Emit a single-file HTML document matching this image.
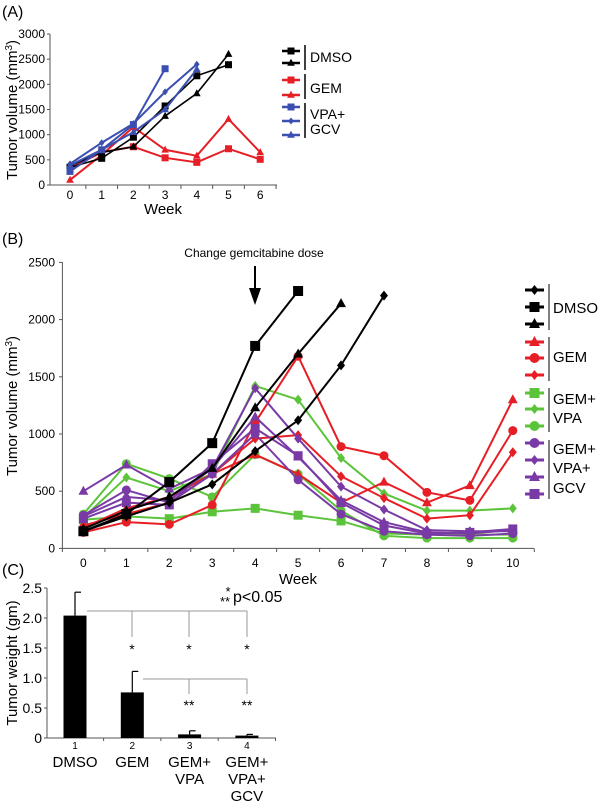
<!DOCTYPE html>
<html><head><meta charset="utf-8">
<style>
html,body{margin:0;padding:0;background:#fff;}
svg{display:block;font-family:"Liberation Sans",Arial,sans-serif;}
</style></head>
<body>
<svg id="fig" width="600" height="806" viewBox="0 0 600 806" xmlns="http://www.w3.org/2000/svg">
<g id="pa"></g>
<g id="pb"></g>
<g id="pc"></g>
</svg>
<script>
// ---------- Panel A data ----------
const aWeeks = [0,1,2,3,4,5,6];
const aTicks = [0,500,1000,1500,2000,2500,3000];
const aDmsoSq = [350,530,950,1570,2170,2390];
const aDmsoTri = [380,650,760,1370,1820,2600];
const aGemSq = [330,650,760,540,450,720,510];
const aGemTri = [100,600,1150,700,580,1310,650];
const aVgSq = [270,700,1200,2310];
const aVgDia = [420,840,1220,1850,2400];
const aVgTri = [390,700,1050,1500,2300];
// ---------- Panel B data ----------
const bWeeks = [0,1,2,3,4,5,6,7,8,9,10];
const bTicks = [0,500,1000,1500,2000,2500];
const bDmsoDia = [150,280,400,560,850,1120,1600,2210];
const bDmsoSq = [150,300,580,920,1770,2250];
const bDmsoTri = [170,330,450,700,1230,1700,2140];
const bGemTri = [180,350,450,650,820,650,400,580,400,550,1300];
const bGemCir = [140,230,210,380,1100,1680,890,810,490,420,1030];
const bGemDia = [200,300,400,650,960,990,630,440,260,290,840];
const bGvSq = [250,280,260,320,350,290,240,130,120,120,120];
const bGvDia = [270,620,500,650,1420,1300,790,480,330,330,350];
const bGvCir = [300,740,610,450,820,650,330,110,90,90,90];
const bGvgCir = [290,510,400,650,1000,600,300,150,120,110,130];
const bGvgDia = [280,450,420,700,1400,960,540,340,160,150,150];
const bGvgTri = [500,730,520,700,1150,800,420,230,140,130,160];
const bGvgSq = [260,400,380,740,1050,810,400,200,130,140,170];
// ---------- Panel C data ----------
const cGroups = ["1","2","3","4"];
const cNames = [["DMSO"],["GEM"],["GEM+","VPA"],["GEM+","VPA+","GCV"]];
const cMeans = [2.04,0.76,0.06,0.04];
const cErr = [0.39,0.35,0.06,0.02];
const cTicks = ["0","0.5","1.0","1.5","2.0","2.5"];

const NS="http://www.w3.org/2000/svg";
function mk(parent,tag,attrs,text){
  const e=document.createElementNS(NS,tag);
  for(const k in attrs) e.setAttribute(k,attrs[k]);
  if(text!==undefined) e.textContent=text;
  parent.appendChild(e); return e;
}
const RED="#e61e25", BLACK="#000", BLUE="#3b4fb0", GREEN="#5cc43a", PURPLE="#7a3aa6";

function marker(g,shape,x,y,s,color){
  let e;
  if(shape==="sq"){ e=mk(g,"rect",{x:x-s,y:y-s,width:2*s,height:2*s,fill:color}); }
  else if(shape==="tri"){ e=mk(g,"polygon",{points:`${x},${y-s*1.2} ${x-s*1.1},${y+s*0.8} ${x+s*1.1},${y+s*0.8}`,fill:color}); }
  else if(shape==="cir"){ e=mk(g,"circle",{cx:x,cy:y,r:s,fill:color}); }
  else { e=mk(g,"polygon",{points:`${x},${y-s} ${x+s*0.8},${y} ${x},${y+s} ${x-s*0.8},${y}`,fill:color}); }
  
  
}
function series(g,name,vals,X,Y,shape,color,s,w){
  const sg=mk(g,"g",{});
  
  
  const pts=vals.map((v,i)=>X(i)+","+Y(v)).join(" ");
  mk(sg,"polyline",{points:pts,fill:"none",stroke:color,"stroke-width":w});
  vals.forEach((v,i)=>marker(sg,shape,X(i),Y(v),s,color));
}

// ===== Panel A =====
(function(){
  const g=document.getElementById("pa");
  const X=i=>70+i*31.7, Y=v=>185-v/3000*151;
  mk(g,"text",{x:2,y:17,"font-size":16,},"(A)");
  mk(g,"line",{x1:50,y1:34,x2:50,y2:185,stroke:"#555"});
  mk(g,"line",{x1:50,y1:185,x2:277,y2:185,stroke:"#555"});
  aTicks.forEach(t=>{
    mk(g,"line",{x1:47,y1:Y(t),x2:50,y2:Y(t),stroke:"#555"});
    const tx=mk(g,"text",{x:45,y:Y(t)+4,"font-size":12,"text-anchor":"end"},t);
     
  });
  aWeeks.forEach(w=>{
    mk(g,"line",{x1:X(w)+15.85,y1:185,x2:X(w)+15.85,y2:189,stroke:"#555"});
    const tx=mk(g,"text",{x:X(w),y:199,"font-size":12,"text-anchor":"middle"},w);
     
  });
  mk(g,"text",{x:163,y:214,"font-size":15,"text-anchor":"middle",},"Week");
  const yt=mk(g,"text",{transform:"translate(17,110) rotate(-90)","font-size":15,"text-anchor":"middle",});
  yt.innerHTML='Tumor volume (mm<tspan dy="-5" font-size="10">3</tspan><tspan dy="5">)</tspan>';
  series(g,"gem-square",aGemSq,X,Y,"sq",RED,3.5,2);
  series(g,"gem-triangle",aGemTri,X,Y,"tri",RED,3.5,2);
  series(g,"dmso-square",aDmsoSq,X,Y,"sq",BLACK,3.5,1.6);
  series(g,"dmso-triangle",aDmsoTri,X,Y,"tri",BLACK,3.5,1.6);
  series(g,"vpa-gcv-square",aVgSq,X,Y,"sq",BLUE,3.5,2);
  series(g,"vpa-gcv-diamond",aVgDia,X,Y,"dia",BLUE,3.5,2);
  series(g,"vpa-gcv-triangle",aVgTri,X,Y,"tri",BLUE,3.5,2);
  const L=mk(g,"g",{});
  const rows=[[51,"sq",BLACK],[63,"tri",BLACK],[80,"sq",RED],[95,"tri",RED],[107,"sq",BLUE],[121,"dia",BLUE],[135,"tri",BLUE]];
  rows.forEach(r=>{mk(L,"line",{x1:282,y1:r[0],x2:300,y2:r[0],stroke:r[2],"stroke-width":2.5});marker(L,r[1],291,r[0],3.5,r[2]);});
  [[45,70],[74,99],[103,138]].forEach(b=>mk(L,"line",{x1:305,y1:b[0],x2:305,y2:b[1],stroke:"#000","stroke-width":1.5}));
  mk(L,"text",{x:310,y:62,"font-size":14},"DMSO");
  mk(L,"text",{x:310,y:93,"font-size":14},"GEM");
  mk(L,"text",{x:310,y:119,"font-size":14},"VPA+");
  mk(L,"text",{x:310,y:134,"font-size":14},"GCV");
})();

// ===== Panel B =====
(function(){
  const g=document.getElementById("pb");
  const X=i=>83.4+i*42.94, Y=v=>548.4-v/2500*286;
  mk(g,"text",{x:2,y:244,"font-size":16,},"(B)");
  mk(g,"line",{x1:62.4,y1:262,x2:62.4,y2:548.4,stroke:"#555"});
  mk(g,"line",{x1:62.4,y1:548.4,x2:534,y2:548.4,stroke:"#555"});
  bTicks.forEach(t=>{
    mk(g,"line",{x1:59,y1:Y(t),x2:62.4,y2:Y(t),stroke:"#555"});
    const tx=mk(g,"text",{x:55,y:Y(t)+4,"font-size":12,"text-anchor":"end"},t);
     
  });
  bWeeks.forEach(w=>{
    mk(g,"line",{x1:X(w)+21.5,y1:548.4,x2:X(w)+21.5,y2:552,stroke:"#555"});
    const tx=mk(g,"text",{x:X(w),y:567,"font-size":12,"text-anchor":"middle"},w);
     
  });
  mk(g,"line",{x1:62.4,y1:548.4,x2:62.4,y2:552,stroke:"#555"});
  mk(g,"text",{x:298,y:584,"font-size":15,"text-anchor":"middle",},"Week");
  const yt=mk(g,"text",{transform:"translate(17,406) rotate(-90)","font-size":15,"text-anchor":"middle",});
  yt.innerHTML='Tumor volume (mm<tspan dy="-5" font-size="10">3</tspan><tspan dy="5">)</tspan>';
  mk(g,"text",{x:254,y:257,"font-size":12,"text-anchor":"middle",},"Change gemcitabine dose");
  mk(g,"line",{x1:255,y1:266,x2:255,y2:294,stroke:"#000","stroke-width":2,});
  mk(g,"polygon",{points:"249,288 261,288 255,305",fill:"#000"});
  series(g,"gem-vpa-square",bGvSq,X,Y,"sq",GREEN,4.5,2);
  series(g,"gem-vpa-diamond",bGvDia,X,Y,"dia",GREEN,5,2);
  series(g,"gem-vpa-circle",bGvCir,X,Y,"cir",GREEN,4.5,2);
  series(g,"gem-triangle",bGemTri,X,Y,"tri",RED,4.5,2);
  series(g,"gem-circle",bGemCir,X,Y,"cir",RED,4.5,2);
  series(g,"gem-diamond",bGemDia,X,Y,"dia",RED,5,2);
  series(g,"gvg-circle",bGvgCir,X,Y,"cir",PURPLE,4.5,2);
  series(g,"gvg-diamond",bGvgDia,X,Y,"dia",PURPLE,5,2);
  series(g,"gvg-triangle",bGvgTri,X,Y,"tri",PURPLE,4.5,2);
  series(g,"gvg-square",bGvgSq,X,Y,"sq",PURPLE,4.5,2);
  series(g,"dmso-diamond",bDmsoDia,X,Y,"dia",BLACK,5,2);
  series(g,"dmso-square",bDmsoSq,X,Y,"sq",BLACK,5,2);
  series(g,"dmso-triangle",bDmsoTri,X,Y,"tri",BLACK,4.5,2);
  const L=mk(g,"g",{});
  const rows=[[290,"dia",BLACK],[307,"sq",BLACK],[324,"tri",BLACK],[342,"tri",RED],[358,"cir",RED],[375,"dia",RED],[393,"sq",GREEN],[409,"dia",GREEN],[426,"cir",GREEN],[443,"cir",PURPLE],[460,"dia",PURPLE],[477,"tri",PURPLE],[494,"sq",PURPLE]];
  rows.forEach(r=>{mk(L,"line",{x1:525,y1:r[0],x2:544,y2:r[0],stroke:r[2],"stroke-width":3});marker(L,r[1],534.5,r[0],5,r[2]);});
  [[284,330],[337,381],[388,432],[440,499]].forEach(b=>mk(L,"line",{x1:549,y1:b[0],x2:549,y2:b[1],stroke:"#000","stroke-width":1}));
  mk(L,"text",{x:553,y:313,"font-size":15},"DMSO");
  mk(L,"text",{x:553,y:362,"font-size":15},"GEM");
  mk(L,"text",{x:553,y:404,"font-size":15},"GEM+");
  mk(L,"text",{x:553,y:423,"font-size":15},"VPA");
  mk(L,"text",{x:553,y:454,"font-size":15},"GEM+");
  mk(L,"text",{x:553,y:473,"font-size":15},"VPA+");
  mk(L,"text",{x:553,y:493,"font-size":15},"GCV");
})();

// ===== Panel C =====
(function(){
  const g=document.getElementById("pc");
  const X=i=>75+i*57.3, Y=v=>738-v*60;
  mk(g,"text",{x:2,y:575,"font-size":16,},"(C)");
  mk(g,"line",{x1:47,y1:588,x2:47,y2:738,stroke:"#555"});
  mk(g,"line",{x1:47,y1:738,x2:276,y2:738,stroke:"#555"});
  cTicks.forEach((t,i)=>{
    const v=i*0.5;
    mk(g,"line",{x1:44,y1:Y(v),x2:47,y2:Y(v),stroke:"#555"});
    const tx=mk(g,"text",{x:42,y:Y(v)+5,"font-size":14,"text-anchor":"end"},t);
     
  });
  mk(g,"text",{transform:"translate(17,663) rotate(-90)","font-size":15,"text-anchor":"middle",},"Tumor weight (gm)");
  cMeans.forEach((m,i)=>{
    const x=X(i);
    const b=mk(g,"rect",{x:x-11.5,y:Y(m),width:23,height:738-Y(m),fill:"#000"});
    
    
    mk(g,"line",{x1:x,y1:Y(m),x2:x,y2:Y(m+cErr[i]),stroke:"#000","stroke-width":1.2});
    mk(g,"line",{x1:x,y1:Y(m+cErr[i]),x2:x+6,y2:Y(m+cErr[i]),stroke:"#000","stroke-width":1.2});
    mk(g,"line",{x1:x+28.6,y1:738,x2:x+28.6,y2:741,stroke:"#555"});
    mk(g,"text",{x:x,y:749,"font-size":10,"text-anchor":"middle"},cGroups[i]);
    cNames[i].forEach((n,j)=>{
      const t=mk(g,"text",{x:x,y:767+j*17,"font-size":15,"text-anchor":"middle"},n);
       
    });
  });
  const br=mk(g,"g",{stroke:"#999","stroke-width":1});
  mk(br,"line",{x1:87,y1:611,x2:247,y2:611});
  [132,189,247].forEach(x=>mk(br,"line",{x1:x,y1:611,x2:x,y2:637}));
  mk(br,"line",{x1:143,y1:679,x2:247,y2:679});
  [189,247].forEach(x=>mk(br,"line",{x1:x,y1:679,x2:x,y2:694}));
  [132,189,247].forEach(x=>mk(g,"text",{x:x,y:654,"font-size":14,"text-anchor":"middle"},"*"));
  [189,247].forEach(x=>mk(g,"text",{x:x,y:710,"font-size":14,"text-anchor":"middle"},"**"));
  mk(g,"text",{x:228,y:596,"font-size":13,"text-anchor":"middle"},"*");
  mk(g,"text",{x:225,y:606,"font-size":13,"text-anchor":"middle"},"**");
  mk(g,"text",{x:233,y:602,"font-size":16,},"p<0.05");
})();
</script>
</body></html>
